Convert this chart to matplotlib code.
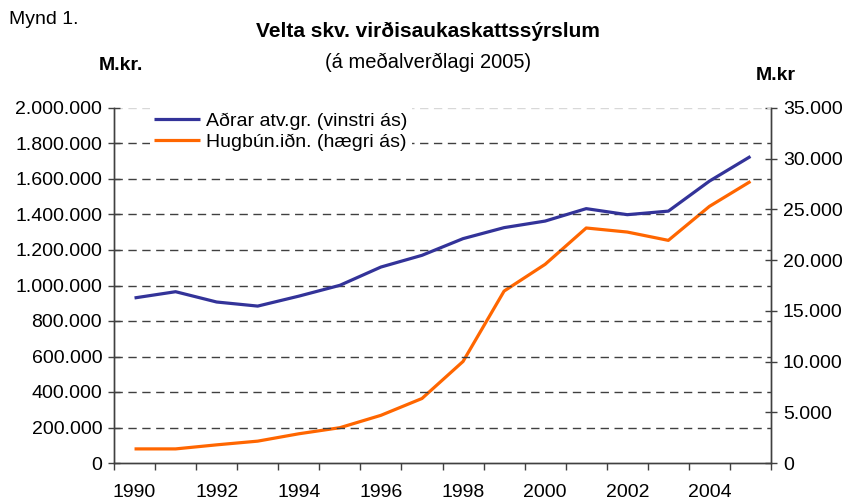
import matplotlib
matplotlib.use("Agg")
import matplotlib.pyplot as plt
from matplotlib.ticker import FuncFormatter, FixedLocator

plt.rcParams['font.family'] = ['Liberation Sans', 'DejaVu Sans']

years = list(range(1990, 2006))
adrar = [930000, 965000, 907000, 884000, 940000, 1001000, 1104000, 1170000,
         1264000, 1326000, 1363000, 1433000, 1399000, 1419000, 1588000, 1727000]
hugbun = [1390, 1390, 1790, 2155, 2880, 3480, 4700, 6360,
          10010, 16950, 19590, 23170, 22770, 21950, 25300, 27760]

left_ticks = list(range(0, 2000001, 200000))
right_ticks = list(range(0, 35001, 5000))

def dots(v, pos=None):
    return f"{int(v):,}".replace(",", ".")

fig = plt.figure(figsize=(8.52, 5.04), dpi=100)
ax = fig.add_axes([114/852, 1 - 463/504, 657/852, 355/504])
ax2 = ax.twinx()

x = list(range(len(years)))

# gridlines at the left-axis ticks
for v in left_ticks[1:]:
    col = '#d8d8d8' if v == left_ticks[-1] else '#404040'
    ax.axhline(v, color=col, lw=1.0, ls=(0, (6, 4)), zorder=0)

l1, = ax.plot(x, adrar, color='#333399', lw=2.3, solid_capstyle='butt', zorder=3)
l2, = ax2.plot(x, hugbun, color='#FF6600', lw=2.3, solid_capstyle='butt', zorder=3)

ax.set_xlim(-0.5, len(years) - 0.5)
ax.set_ylim(0, 2000000)
ax2.set_ylim(0, 35000)

ax.yaxis.set_major_locator(FixedLocator(left_ticks))
ax.yaxis.set_major_formatter(FuncFormatter(dots))
ax2.yaxis.set_major_locator(FixedLocator(right_ticks))
ax2.yaxis.set_major_formatter(FuncFormatter(dots))

ax.set_xticks(x[::2])
ax.set_xticklabels([str(y) for y in years[::2]])
ax.set_xticks([i - 0.5 for i in range(len(years) + 1)], minor=True)
ax.tick_params(axis='x', which='major', length=0, pad=15, labelsize=14)
ax.tick_params(axis='x', which='minor', length=5, width=1, direction='out', color='#404040')
ax.tick_params(axis='y', length=9, width=1, direction='inout', labelsize=14, pad=4, color='#404040')
ax2.tick_params(axis='y', length=9, width=1, direction='inout', labelsize=14, pad=4, color='#404040')

for a in (ax, ax2):
    a.spines['top'].set_visible(False)
    for s in ('left', 'right', 'bottom'):
        a.spines[s].set_color('#404040')
        a.spines[s].set_linewidth(1)
ax.set_zorder(ax2.get_zorder() + 1)
ax.patch.set_visible(False)

leg = ax.legend([l1, l2], ['Aðrar atv.gr. (vinstri ás)', 'Hugbún.iðn. (hægri ás)'],
                loc='upper left', bbox_to_anchor=(150/852, 1 - 108/504),
                bbox_transform=fig.transFigure, fontsize=14, frameon=True,
                handlelength=2.35, handletextpad=0.35, labelspacing=0.2,
                borderpad=0.2, borderaxespad=0, fancybox=False)
leg.get_frame().set_facecolor('white')
leg.get_frame().set_edgecolor('none')
leg.get_frame().set_alpha(1)
leg.set_zorder(5)

fig.text(9/852, 1 - 20/504, 'Mynd 1.', fontsize=14, va='center', ha='left')
fig.text(428/852, 1 - 31/504, 'Velta skv. virðisaukaskattssýrslum', fontsize=15,
         fontweight='bold', ha='center', va='center')
fig.text(428/852, 1 - 62/504, '(á meðalverðlagi 2005)', fontsize=14.5,
         ha='center', va='center')
fig.text(121/852, 1 - 65/504, 'M.kr.', fontsize=14, fontweight='bold',
         ha='center', va='center')
fig.text(776/852, 1 - 76/504, 'M.kr', fontsize=14, fontweight='bold',
         ha='center', va='center')

fig.savefig('out.png', dpi=100)
